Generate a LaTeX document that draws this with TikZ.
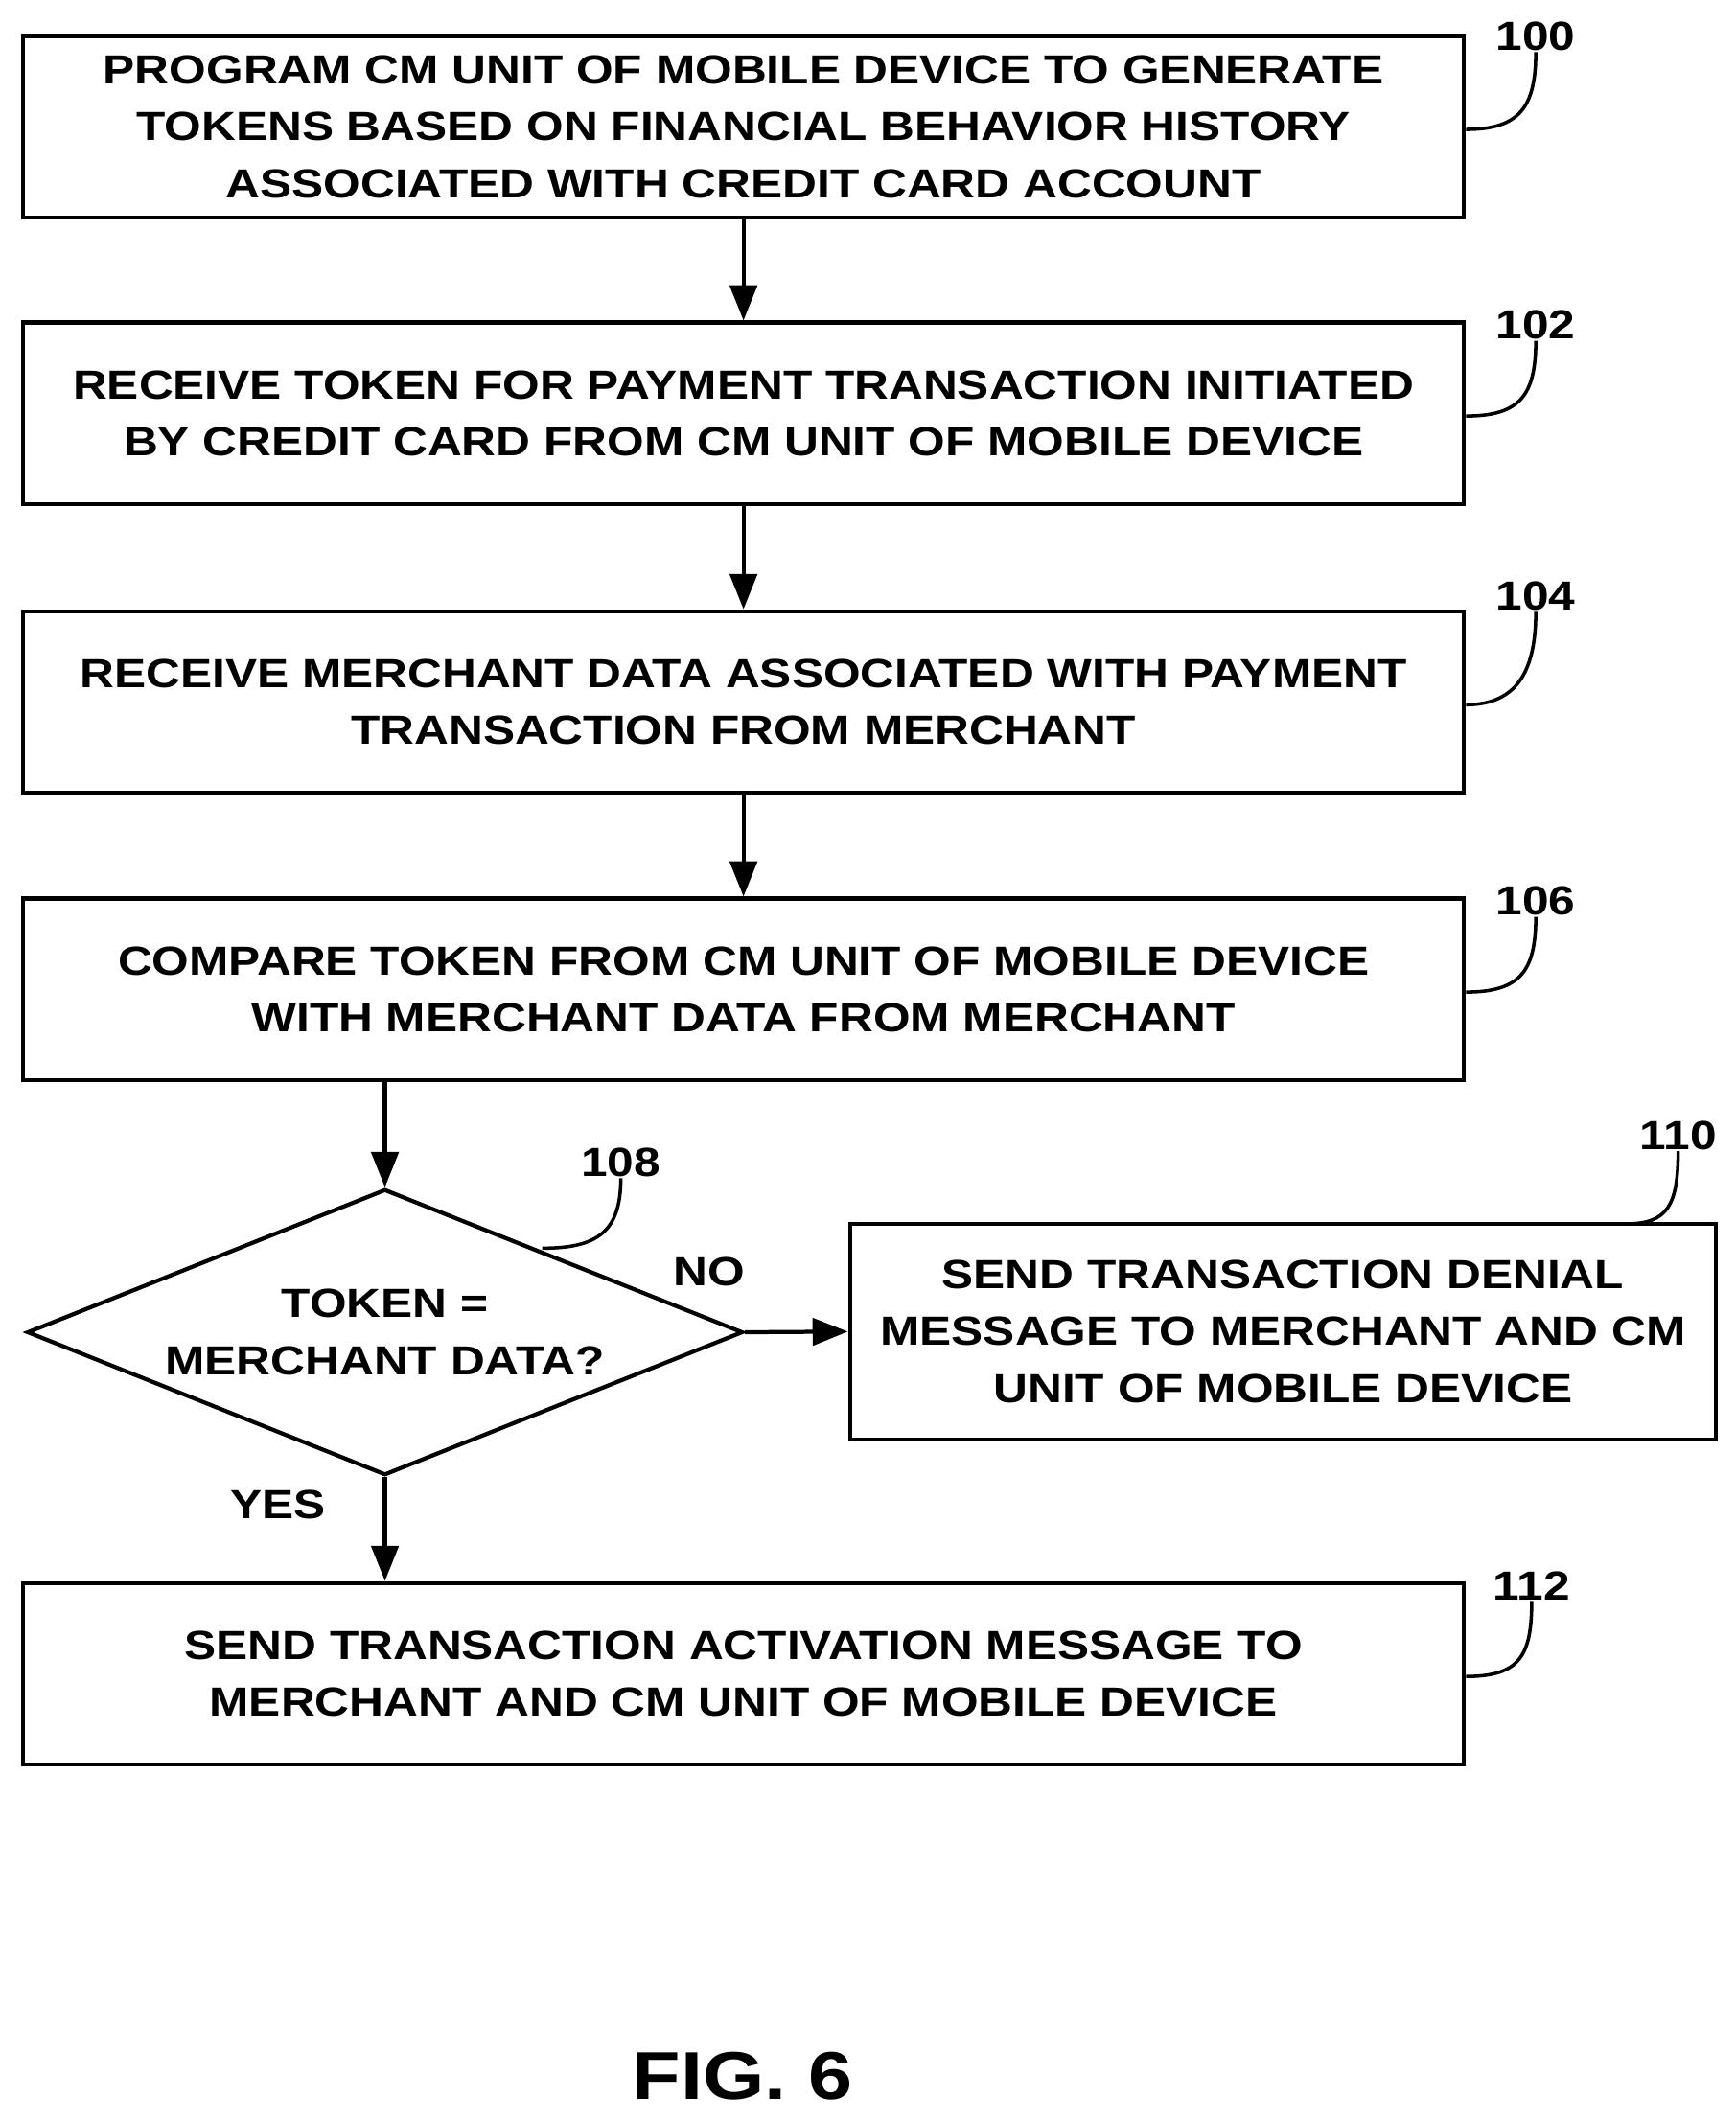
\documentclass[tikz,border=0pt]{standalone}
\usepackage{fontspec}
\setmainfont[FakeStretch=1.17]{Liberation Sans}
\usetikzlibrary{shapes.geometric, arrows.meta}
\begin{document}
\begin{tikzpicture}[x=1pt, y=-1pt,
    line width=3pt,
    box/.style={draw, minimum width=1063pt, minimum height=134pt, align=center,
        font=\bfseries\fontsize{30}{42}\selectfont, inner sep=0pt},
    lbl/.style={font=\bfseries\fontsize{30}{36}\selectfont},
    arr/.style={-{Triangle[length=26pt,width=20pt]}}
]
    \useasboundingbox (0,0) rectangle (1280,1565);
    % Process boxes
    \node[box] (program) at (548.5,93.5) {PROGRAM CM UNIT OF MOBILE DEVICE TO GENERATE\\TOKENS BASED ON FINANCIAL BEHAVIOR HISTORY\\ASSOCIATED WITH CREDIT CARD ACCOUNT};
    \node[box] (receivetok) at (548.5,305) {RECEIVE TOKEN FOR PAYMENT TRANSACTION INITIATED\\BY CREDIT CARD FROM CM UNIT OF MOBILE DEVICE};
    \node[box] (receivemer) at (548.5,518) {RECEIVE MERCHANT DATA ASSOCIATED WITH PAYMENT\\TRANSACTION FROM MERCHANT};
    \node[box] (compare) at (548.5,730) {COMPARE TOKEN FROM CM UNIT OF MOBILE DEVICE\\WITH MERCHANT DATA FROM MERCHANT};
    \node[draw, diamond, aspect=2.5, minimum width=528pt, minimum height=211pt, inner sep=0pt,
        align=center, font=\bfseries\fontsize{30}{42}\selectfont] (match) at (284,983) {TOKEN =\\MERCHANT DATA?};
    \node[box, minimum width=639pt, minimum height=159pt] (deny) at (946.5,982.5) {SEND TRANSACTION DENIAL\\MESSAGE TO MERCHANT AND CM\\UNIT OF MOBILE DEVICE};
    \node[box] (activate) at (548.5,1235) {SEND TRANSACTION ACTIVATION MESSAGE TO\\MERCHANT AND CM UNIT OF MOBILE DEVICE};

    % Flow
    \draw[arr] (program) -- (receivetok);
    \draw[arr] (receivetok) -- (receivemer);
    \draw[arr] (receivemer) -- (compare);
    \draw[arr] (compare.south -| match.north) -- (match.north);
    \draw[arr] (match.east) -- node[lbl, above=24pt, pos=0] (no) {} (deny.west);
    \node[lbl] (nolbl) at (523,938) {NO};
    \draw[arr] (match.south) -- (activate.north -| match.south);
    \node[lbl] (yes) at (205,1110) {YES};

    % Reference numerals
    \node[lbl] (n100) at (1133,27) {100};
    \node[lbl] (n102) at (1133,240) {102};
    \node[lbl] (n104) at (1133,440) {104};
    \node[lbl] (n106) at (1133,665) {106};
    \node[lbl] (n108) at (458,858) {108};
    \node[lbl] (n110) at (1238,838) {110};
    \node[lbl] (n112) at (1130,1170) {112};
    \foreach \b/\n in {program/n100, receivetok/n102, receivemer/n104, compare/n106, activate/n112}
        \draw[line width=2.5pt] ([yshift=-2pt]\b.east) .. controls +(40,0) and +(0,40) .. ([yshift=4pt]\n.south);
    \draw[line width=2.5pt] (400,921) .. controls +(40,0) and +(0,40) .. ([yshift=4pt]n108.south);
    \draw[line width=2.5pt] (1200,903) .. controls +(30,0) and +(0,40) .. ([yshift=4pt]n110.south);

    \node[font=\bfseries\fontsize{50}{60}\selectfont] (fig) at (548,1532) {FIG. 6};
\end{tikzpicture}
\end{document}
